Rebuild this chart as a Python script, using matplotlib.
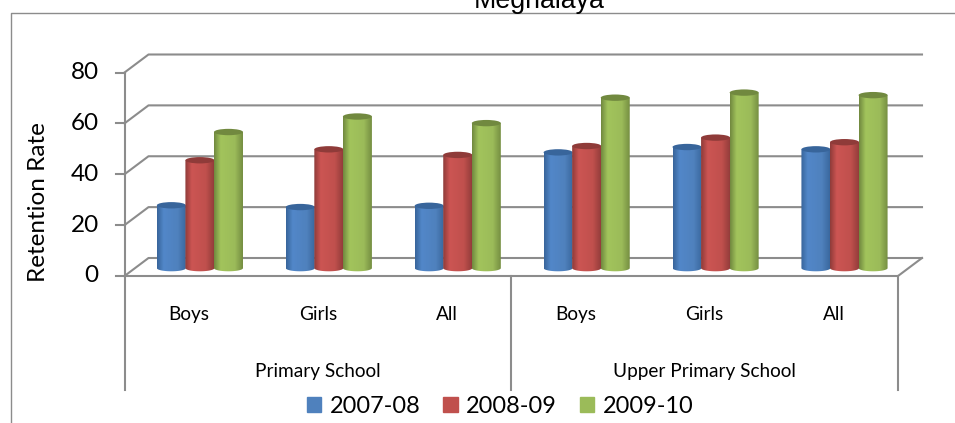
import numpy as np
import matplotlib
matplotlib.use("Agg")
import matplotlib.pyplot as plt
from matplotlib.colors import LinearSegmentedColormap
from matplotlib.lines import Line2D
from matplotlib.patches import Ellipse, Patch, Polygon

plt.rcParams["font.family"] = ["Lato", "DejaVu Sans"]

groups = ["Primary School", "Upper Primary School"]
categories = ["Boys", "Girls", "All", "Boys", "Girls", "All"]
seasons = ["2007-08", "2008-09", "2009-10"]
values_0708 = [24.7, 24.0, 24.5, 45.5, 47.6, 46.7]
values_0809 = [42.4, 46.7, 44.5, 48.0, 51.3, 49.5]
values_0910 = [53.5, 59.6, 57.0, 67.0, 69.0, 68.0]
yticks = [0, 20, 40, 60, 80]

colors = ["#4f81bd", "#c0504d", "#9bbb59"]
bright = ["#5287c9", "#cc5553", "#a2c45c"]
dark = ["#38659b", "#8f3b39", "#71893f"]
grey = "#8c8c8c"

fig = plt.figure(figsize=(9.55, 4.23), dpi=100)
ax = fig.add_axes([124.5 / 955, (423 - 276) / 423, (898 - 124.5) / 955, 203.5 / 423])
ax.set_xlim(0, 6)
ax.set_ylim(0, 80)
ax.axis("off")

# depth of the fake 3d box, in data units
dx = 24 / 128.9
dy = 18 / 2.544
ty = 8 / 128.9

for t in yticks:
    ax.plot([0, dx, 6 + dx], [t, t + dy, t + dy], color=grey, lw=1.5, clip_on=False, zorder=1)
    ax.plot([-ty, 0], [t, t], color=grey, lw=1.5, clip_on=False, zorder=1)
    ax.text(-0.2, t, str(t), ha="right", va="center", fontsize=17.5, color="black")
ax.plot([0, 6, 6 + dx], [0, 0, dy], color=grey, lw=1.5, clip_on=False, zorder=1)
ax.plot([0, 0], [80, -45], color=grey, lw=1.5, clip_on=False, zorder=1)
ax.plot([3, 3], [0, -45], color=grey, lw=1.5, clip_on=False, zorder=1)
ax.plot([6, 6], [0, -45], color=grey, lw=1.5, clip_on=False, zorder=1)


def cylinder(x, value, w, k):
    # one bar: gradient body clipped to the cylinder outline, dark lid on top
    base = 3.1
    eh = 2.5
    top = base + value
    th = np.linspace(np.pi, 2 * np.pi, 40)
    xs = x + np.cos(th) * w / 2
    ys = base + np.sin(th) * eh / 2
    outline = list(zip(xs, ys)) + [(x + w / 2, top), (x - w / 2, top)]
    poly = Polygon(outline, closed=True, transform=ax.transData, fc="none", ec="none")
    ax.add_patch(poly)
    cmap = LinearSegmentedColormap.from_list(
        "c", [(0, dark[k]), (0.22, bright[k]), (0.7, colors[k]), (1, dark[k])]
    )
    im = ax.imshow(
        np.linspace(0, 1, 64).reshape(1, -1), cmap=cmap, aspect="auto",
        extent=(x - w / 2, x + w / 2, base - eh, top), zorder=3 + x, clip_on=True,
    )
    im.set_clip_path(poly)
    ax.add_patch(Ellipse((x, top), w, eh, fc=dark[k], ec="none", zorder=3 + x))


series = [values_0708, values_0809, values_0910]
bar_w = 0.225
for c in range(len(categories)):
    for k, vals in enumerate(series):
        xc = c + 0.5 + 0.085 + (k - 1) * bar_w * 0.985
        cylinder(xc, vals[c], bar_w, k)
ax.set_xlim(0, 6)
ax.set_ylim(0, 80)

for c, name in enumerate(categories):
    ax.text(c + 0.5, -15.1, name, ha="center", va="center", fontsize=13.7, color="black")
for g, name in enumerate(groups):
    ax.text(1.5 + 3 * g, -37.6, name, ha="center", va="center", fontsize=13.7, color="black")

ax.text(-0.665, 29, "Retention Rate", rotation=90, ha="center", va="center", fontsize=17.5)

# chart frame, runs off the image on the right and bottom
fig.add_artist(Line2D([10.5 / 955, 10.5 / 955, 1], [0, 1 - 13.5 / 423, 1 - 13.5 / 423], color=grey, lw=1))
fig.text(539 / 955, 1 - 0.5 / 423, "Meghalaya", ha="center", va="center", fontsize=19.3,
         family=["Liberation Sans", "DejaVu Sans"])

handles = [Patch(color=c, label=s) for c, s in zip(colors, seasons)]
fig.legend(handles=handles, loc="center", bbox_to_anchor=(500 / 955, 1 - 406 / 423), ncol=3,
           frameon=False, fontsize=16.9, handlelength=0.62, handleheight=0.62, handletextpad=0.35,
           columnspacing=0.98, borderpad=0)

fig.savefig("out.png", dpi=100)
